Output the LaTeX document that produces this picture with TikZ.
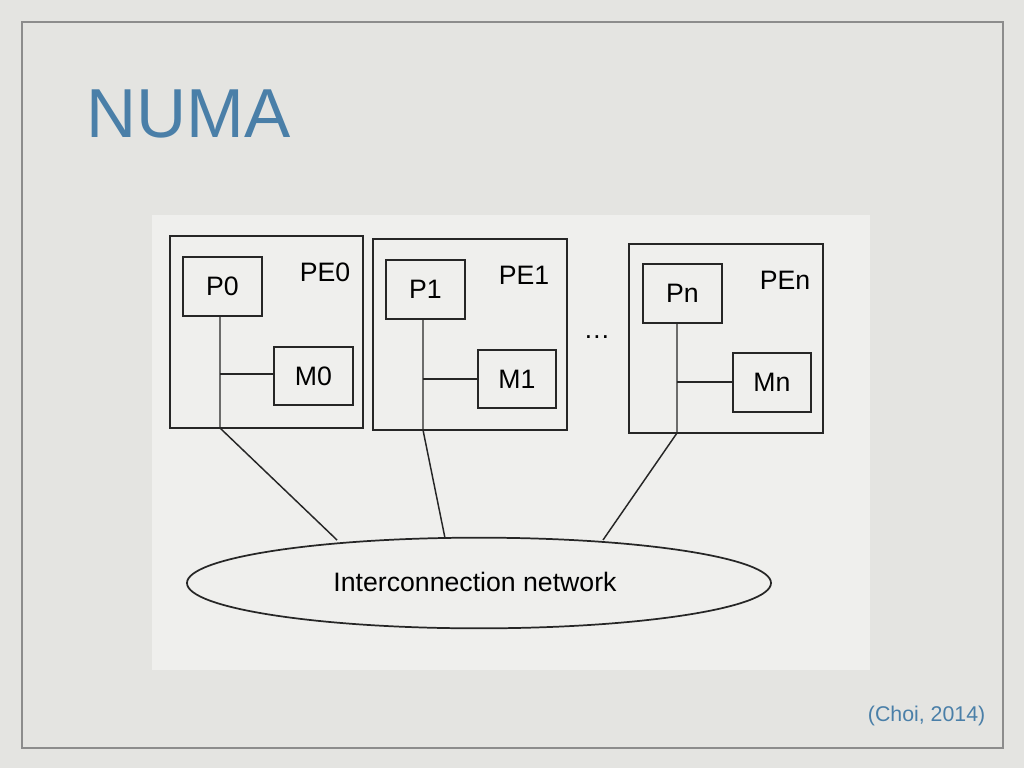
\documentclass[tikz,border=0pt]{standalone}
\usepackage{fontspec}
\setmainfont{Liberation Sans}
\usetikzlibrary{calc}
\usetikzlibrary{positioning}
\usetikzlibrary{shapes.geometric}
\definecolor{slidebg}{HTML}{E4E4E1}
\definecolor{scanbg}{HTML}{EFEFED}
\definecolor{titleblue}{HTML}{4A7FA8}
\tikzset{inv/.style={opacity=0}}
\tikzset{box/.style={draw=black!85,line width=1.3pt,inner sep=0pt}}
\tikzset{lbl/.style={font=\fontsize{20}{22}\selectfont,inner sep=0pt}}
\tikzset{wire/.style={draw=black!85,line width=1.1pt}}

\begin{document}
\begin{tikzpicture}[x=0.75pt,y=-0.75pt]
\fill[slidebg] (0,0) rectangle (1024,768);
\draw[black!45,line width=1.5pt] (22,22) rectangle (1003,748);
\fill[scanbg] (152,215) rectangle (870,670);
\node[anchor=west,text=titleblue,font=\fontsize{52}{58}\selectfont] (title) at (82,114) {NUMA};
\node[anchor=east,text=titleblue,font=\fontsize{16}{18}\selectfont] (cite) at (990,716) {(Choi, 2014)};

% processing elements
\draw[box] (170,236) rectangle (363,428);
\draw[box] (373,239) rectangle (567,430);
\draw[box] (629,244) rectangle (823,433);
\node[box,minimum width=59pt,minimum height=44pt] (P0) at (222.5,286.5){};
\node[box,minimum width=59pt,minimum height=44pt] (M0) at (313.5,376){};
\node[box,minimum width=59pt,minimum height=44pt] (P1) at (425.5,289.5){};
\node[box,minimum width=59pt,minimum height=44pt] (M1) at (517,379){};
\node[box,minimum width=59pt,minimum height=44pt] (Pn) at (682.5,293.5){};
\node[box,minimum width=59pt,minimum height=44pt] (Mn) at (772,382.5){};
\node[lbl] at (P0) {P0};
\node[lbl] at (M0) {M0};
\node[lbl] at (P1) {P1};
\node[lbl] at (M1) {M1};
\node[lbl] at (Pn) {Pn};
\node[lbl] at (Mn) {Mn};
\node[lbl] at (325,272) {PE0};
\node[lbl] at (524,275) {PE1};
\node[lbl] at (785,280) {PEn};
\node[lbl] at (597,337) {\dots};

% network
\node[draw=black!85,line width=1.3pt,ellipse,minimum width=438pt,minimum height=68pt] (net) at (479,583){};
\node[lbl] at (475,582) {Interconnection network};

\coordinate (a0) at (220,428);
\coordinate (a1) at (423,430);
\coordinate (an) at (677,433);
\coordinate (j0) at (220,374);
\coordinate (j1) at (423,379);
\coordinate (jn) at (677,382);
\coordinate (e0) at (337,540);
\coordinate (e1) at (445,538);
\coordinate (en) at (603,540);
\draw[wire] (P0.south -| a0)--(a0)--(e0);
\draw[wire] (P1.south -| a1)--(a1)--(e1);
\draw[wire] (Pn.south -| an)--(an)--(en);
\draw[wire] (j0)--(M0.west |- j0);
\draw[wire] (j1)--(M1.west |- j1);
\draw[wire] (jn)--(Mn.west |- jn);
\end{tikzpicture}
\end{document}
